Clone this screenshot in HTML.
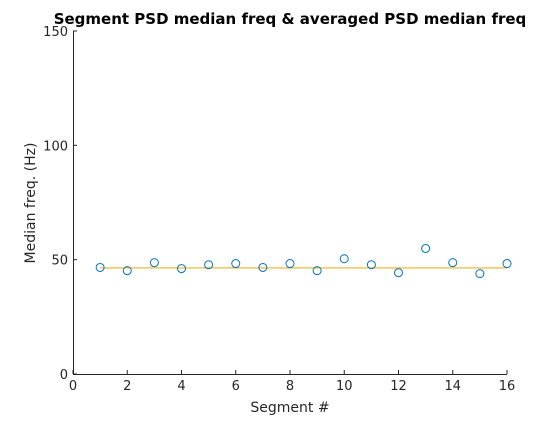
<!DOCTYPE html>
<html><head><meta charset="utf-8"><style>
body{margin:0;background:#fff;width:560px;height:420px;overflow:hidden}
text{font-family:"DejaVu Sans","Liberation Sans",sans-serif}
</style></head><body>
<svg id="chart" width="560" height="420"></svg>
<script>
const segments=[1,2,3,4,5,6,7,8,9,10,11,12,13,14,15,16];
const medianFreq=[46.6,45.2,48.7,46.1,47.8,48.3,46.6,48.3,45.2,50.4,47.8,44.3,54.9,48.7,43.9,48.3];
const averagedMedian=46.6;
const xTicks=[0,2,4,6,8,10,12,14,16];
const yTicks=[0,50,100,150];
const NS="http://www.w3.org/2000/svg";
const svg=document.getElementById('chart');
const L=73,R=507,T=31,B=374;
const x=v=>L+(v-0)/16*(R-L);
const y=v=>B-(v-0)/150*(B-T);
function mk(t,a,p){const e=document.createElementNS(NS,t);for(const k in a)e.setAttribute(k,a[k]);(p||svg).appendChild(e);return e;}
const ax=mk('g',{});


mk('line',{x1:L,y1:B+0.5,x2:R,y2:B+0.5,stroke:'#262626','stroke-width':1},ax);
mk('line',{x1:L+0.5,y1:T,x2:L+0.5,y2:B,stroke:'#262626','stroke-width':1},ax);
xTicks.forEach(v=>{
 mk('line',{x1:x(v),y1:B,x2:x(v),y2:B-4,stroke:'#262626'},ax);
 const t=mk('text',{x:x(v),y:B+16,'text-anchor':'middle','font-size':13,fill:'#262626'},ax);t.textContent=v;
 
 
});
yTicks.forEach(v=>{
 mk('line',{x1:L,y1:y(v),x2:L+4,y2:y(v),stroke:'#262626'},ax);
 const t=mk('text',{x:L-5,y:y(v)+5,'text-anchor':'end','font-size':13,fill:'#262626'},ax);t.textContent=v;
 
 
});
const ml=mk('line',{x1:x(segments[0]),y1:y(averagedMedian)+0.5,x2:x(segments[segments.length-1]),y2:y(averagedMedian)+0.5,stroke:'#EDB120','stroke-width':1.2});


segments.forEach((s,i)=>{
 const c=mk('circle',{cx:x(s),cy:y(medianFreq[i]),r:4,fill:'none',stroke:'#0072BD','stroke-width':1});
 
 
});
const tt=mk('text',{x:290,y:24,'text-anchor':'middle','font-size':15,'font-weight':'bold',fill:'#000'});
tt.textContent='Segment PSD median freq & averaged PSD median freq';


const xl=mk('text',{x:290,y:412,'text-anchor':'middle','font-size':14,fill:'#262626'});
xl.textContent='Segment #';


const yl=mk('text',{x:0,y:0,'text-anchor':'middle','font-size':14,fill:'#262626',transform:'translate(35,203) rotate(-90)'});
yl.textContent='Median freq. (Hz)';


</script>
</body></html>
